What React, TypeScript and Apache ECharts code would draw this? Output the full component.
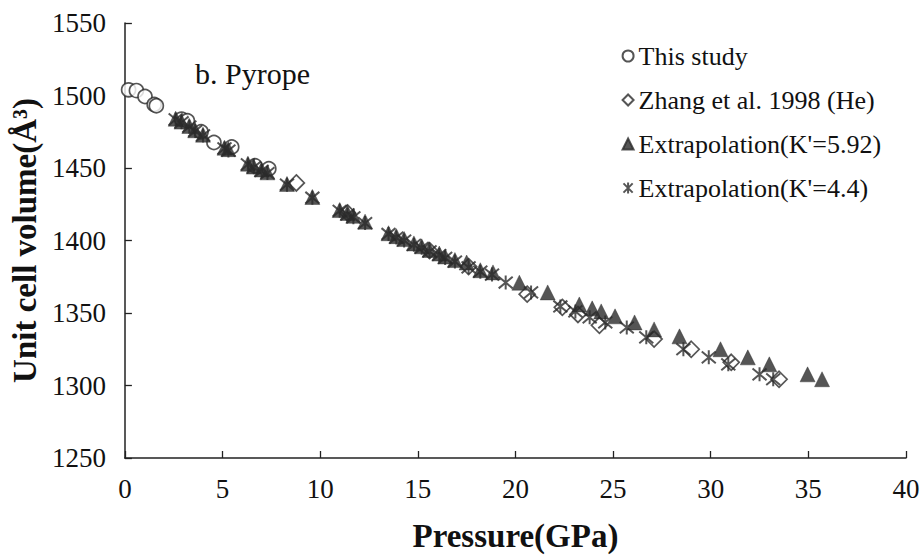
import React, { useEffect, useRef } from "react";
import * as echarts from "echarts";

// ---- Data ----
const xTicks = [0, 5, 10, 15, 20, 25, 30, 35, 40];
const yTicks = [1250, 1300, 1350, 1400, 1450, 1500, 1550];

// This study (open circles)
const thisP = [0.19, 0.59, 1.03, 1.5, 1.61, 2.9, 3.2, 3.9, 4.56, 5.47, 6.66, 7.37];
const thisV = [1503.9, 1503.4, 1499.3, 1493.8, 1492.9, 1483.7, 1482.6, 1475.0, 1467.6, 1464.5, 1451.6, 1449.5];

// Zhang et al. 1998 (He) (open diamonds)
const zhangP = [8.78, 11.4, 15.6, 17.6, 20.6, 22.4, 23.2, 24.3, 27.1, 29.0, 31.05, 33.5];
const zhangV = [1439.7, 1419.0, 1393.0, 1382.0, 1363.0, 1353.9, 1349.0, 1341.5, 1332.0, 1325.0, 1316.0, 1304.3];

// Extrapolation (K'=5.92) (filled triangles)
const ext592P = [2.6, 2.9, 3.3, 3.6, 4.0, 5.1, 5.3, 6.3, 6.6, 7.0, 7.3, 8.3, 9.6, 11.0, 11.4, 11.7, 12.3,
  13.5, 13.9, 14.3, 14.8, 15.2, 15.6, 16.1, 16.4, 16.9, 17.5, 18.2, 18.85, 20.2, 21.65, 23.27, 23.93, 24.39,
  25.1, 26.1, 27.1, 28.4, 30.5, 31.9, 33.0, 34.96, 35.7];
const ext592V = [1484.0, 1482.0, 1479.0, 1476.0, 1473.0, 1464.0, 1463.0, 1453.0, 1451.0, 1449.0, 1447.0, 1439.0, 1430.0,
  1421.0, 1419.0, 1417.0, 1413.0, 1405.0, 1403.0, 1401.0, 1398.0, 1396.0, 1393.5, 1391.0, 1389.0, 1386.5, 1384.8, 1379.5, 1378.0,
  1370.9, 1364.2, 1355.9, 1353.2, 1351.1, 1347.7, 1343.5, 1338.7, 1333.9, 1325.0, 1319.4, 1314.6, 1307.7, 1304.3];

// Extrapolation (K'=4.4) (asterisks)
const ext44P = [2.6, 2.9, 3.3, 3.6, 4.0, 5.1, 5.3, 6.3, 6.6, 7.0, 7.3, 8.3, 9.6, 11.0, 11.4, 11.7, 12.3,
  13.5, 13.9, 14.3, 14.8, 15.2, 15.6, 16.1, 16.4, 16.9, 17.6, 18.2, 18.8, 19.5, 20.8, 22.3, 23.07, 23.8,
  24.6, 25.7, 26.7, 28.6, 29.9, 30.9, 32.5, 33.2];
const ext44V = [1483.5, 1481.5, 1478.5, 1475.5, 1472.5, 1463.5, 1462.0, 1452.5, 1450.5, 1448.0, 1446.5, 1438.5, 1429.5,
  1420.5, 1418.0, 1416.0, 1412.0, 1404.5, 1402.0, 1400.0, 1397.0, 1395.0, 1392.5, 1390.0, 1388.0, 1385.5, 1381.5, 1378.5, 1376.5,
  1371.0, 1364.2, 1354.5, 1351.1, 1347.0, 1343.5, 1340.0, 1333.2, 1325.0, 1319.4, 1314.6, 1307.7, 1304.3];

const seriesNames = ["This study", "Zhang et al. 1998 (He)", "Extrapolation(K'=5.92)", "Extrapolation(K'=4.4)"];

const zip = (p: number[], v: number[]) => p.map((x, i) => [x, v[i]]);

const FONT = "Liberation Serif";
const INK = "#2b2b2b";
const ASTERISK = "path://M-1,-1L1,1M-1,1L1,-1M0,-1.2L0,1.2";

export default function App() {
  const ref = useRef<HTMLDivElement>(null);
  useEffect(() => {
    if (!ref.current) return;
    const chart = echarts.init(ref.current, undefined, { renderer: "svg" });
    chart.setOption({
      animation: false,
      backgroundColor: "#ffffff",
      textStyle: { fontFamily: FONT },
      grid: { left: 119, right: 18, top: 23, bottom: 97, containLabel: false },
      xAxis: {
        type: "value",
        min: xTicks[0],
        max: xTicks[xTicks.length - 1],
        interval: 5,
        name: "Pressure(GPa)",
        nameLocation: "middle",
        nameGap: 61,
        nameTextStyle: { fontFamily: FONT, fontSize: 33, fontWeight: "bold", color: "#111" },
        axisLine: { show: true, lineStyle: { color: "#222", width: 1.5 } },
        axisTick: { show: true, inside: true, length: 7, lineStyle: { color: "#222", width: 1.3 } },
        axisLabel: {
          fontFamily: FONT, fontSize: 27, color: "#111", margin: 17, showMinLabel: true, showMaxLabel: true,
          formatter: (v: number) => String(v),
        },
        splitLine: { show: false },
      },
      yAxis: {
        type: "value",
        min: yTicks[0],
        max: yTicks[yTicks.length - 1],
        interval: 50,
        name: "Unit cell volume(Å³)",
        nameLocation: "middle",
        nameGap: 79,
        nameTextStyle: { fontFamily: FONT, fontSize: 33, fontWeight: "bold", color: "#111" },
        axisLine: { show: true, lineStyle: { color: "#222", width: 1.5 } },
        axisTick: { show: true, inside: true, length: 7, lineStyle: { color: "#222", width: 1.3 } },
        axisLabel: {
          fontFamily: FONT, fontSize: 27, color: "#111", margin: 19, showMinLabel: true, showMaxLabel: true,
          formatter: (v: number) => String(v),
        },
        splitLine: { show: false },
      },
      legend: {
        orient: "vertical",
        left: 616,
        top: 38,
        itemGap: 18,
        itemWidth: 11,
        itemHeight: 11,
        data: seriesNames,
        textStyle: { fontFamily: FONT, fontSize: 26, color: "#111" },
      },
      graphic: [
        {
          type: "text",
          left: 195,
          top: 58,
          style: { text: "b. Pyrope", fontFamily: FONT, fontSize: 30, fill: "#111" },
        },
      ],
      series: [
        {
          name: seriesNames[0],
          type: "scatter",
          symbol: "circle",
          symbolSize: 14,
          itemStyle: { color: "#ffffff", borderColor: INK, borderWidth: 1.7 },
          data: zip(thisP, thisV),
          z: 2,
        },
        {
          name: seriesNames[1],
          type: "scatter",
          symbol: "diamond",
          symbolSize: 16,
          itemStyle: { color: "#ffffff", borderColor: INK, borderWidth: 1.7 },
          data: zip(zhangP, zhangV),
          z: 3,
        },
        {
          name: seriesNames[2],
          type: "scatter",
          symbol: "triangle",
          symbolSize: 15,
          itemStyle: { color: INK, borderColor: INK, borderWidth: 0.5 },
          data: zip(ext592P, ext592V),
          z: 4,
        },
        {
          name: seriesNames[3],
          type: "scatter",
          symbol: ASTERISK,
          symbolSize: 14,
          itemStyle: { color: "none", borderColor: INK, borderWidth: 2 },
          data: zip(ext44P, ext44V),
          z: 5,
        },
      ],
    });
    return () => chart.dispose();
  }, []);
  return <div ref={ref} style={{ width: 924, height: 557, position: "absolute", left: 0, top: 0 }} />;
}
